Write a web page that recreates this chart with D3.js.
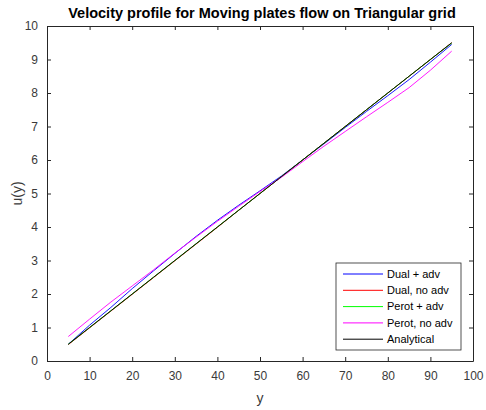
<!DOCTYPE html>
<html><head><meta charset="utf-8">
<script src="https://cdn.jsdelivr.net/npm/d3@7"></script>
<style>body{margin:0;background:#fff}svg{display:block}text{font-family:"Liberation Sans",Arial,Helvetica,sans-serif}</style>
</head><body><svg id="c" width="486" height="410"></svg>
<script>
const yPos = [5,10,15,20,25,30,35,40,45,50,55,60,65,70,75,80,85,90,95];
const dualAdv   = [0.50,1.07,1.60,2.16,2.69,3.21,3.72,4.20,4.65,5.08,5.52,6.00,6.48,6.97,7.45,7.92,8.40,8.92,9.45];
const dualNoAdv = [0.49,0.99,1.49,1.99,2.49,2.99,3.49,3.99,4.50,5.00,5.50,6.00,6.50,7.00,7.50,8.00,8.50,9.00,9.50];
const perotAdv  = [0.50,1.00,1.50,2.00,2.50,3.00,3.50,4.00,4.50,5.00,5.50,6.00,6.50,7.00,7.50,8.00,8.50,9.00,9.49];
const perotNoAdv= [0.73,1.25,1.76,2.24,2.72,3.22,3.70,4.17,4.62,5.06,5.48,5.95,6.41,6.85,7.29,7.72,8.16,8.68,9.25];
const analytical= [0.50,1.00,1.50,2.00,2.50,3.00,3.50,4.00,4.50,5.00,5.50,6.00,6.50,7.00,7.50,8.00,8.50,9.00,9.50];
const xTicks = [0,10,20,30,40,50,60,70,80,90,100];
const yTicks = [0,1,2,3,4,5,6,7,8,9,10];
const seriesNames = ["Dual + adv","Dual, no adv","Perot + adv","Perot, no adv","Analytical"];
const seriesColors = ["#0000ff","#ff0000","#00ff00","#ff00ff","#000000"];
const seriesData = [dualAdv,dualNoAdv,perotAdv,perotNoAdv,analytical];

const L=47,R=473,T=26,B=361;
const svg=d3.select("#c");
const x=d3.scaleLinear().domain([0,100]).range([L,R]);
const y=d3.scaleLinear().domain([0,10]).range([B,T]);
const axCol="#262626";

const g=svg.append("g");
const line=d3.line().x((d,i)=>x(yPos[i])).y(d=>y(d));
seriesData.forEach((s,k)=>{
  g.append("path").attr("d",line(s)).attr("fill","none")
   .attr("stroke",seriesColors[k]).attr("stroke-width",0.9);
});

function styleAxis(sel){
  sel.selectAll("path").attr("stroke",axCol);
  sel.selectAll("line").attr("stroke",axCol);
  sel.selectAll("text").attr("fill","#3a3a3a").style("font-size","12px");
}
const ax=svg.append("g").attr("transform",`translate(0,${B})`)
  .call(d3.axisBottom(x).tickValues(xTicks).tickSize(-4).tickSizeOuter(0).tickPadding(10));
styleAxis(ax);
const axT=svg.append("g").attr("transform",`translate(0,${T})`)
  .call(d3.axisTop(x).tickValues(xTicks).tickSize(-4).tickSizeOuter(0).tickFormat(""));
styleAxis(axT);
const ay=svg.append("g").attr("transform",`translate(${L},0)`)
  .call(d3.axisLeft(y).tickValues(yTicks).tickSize(-4).tickSizeOuter(0).tickPadding(9));
styleAxis(ay);
const ayR=svg.append("g").attr("transform",`translate(${R},0)`)
  .call(d3.axisRight(y).tickValues(yTicks).tickSize(-4).tickSizeOuter(0).tickFormat(""));
styleAxis(ayR);
svg.selectAll(".domain").attr("stroke-width",1);

svg.append("text").attr("x",(L+R)/2+2).attr("y",18).attr("text-anchor","middle")
  .style("font-size","14.5px").style("font-weight","bold").attr("fill","#000")
  .text("Velocity profile for Moving plates flow on Triangular grid");
svg.append("text").attr("x",(L+R)/2).attr("y",403).attr("text-anchor","middle")
  .style("font-size","14px").attr("fill","#3a3a3a").text("y");
svg.append("text").attr("transform",`translate(22,${(T+B)/2}) rotate(-90)`).attr("text-anchor","middle")
  .style("font-size","14px").attr("fill","#3a3a3a").text("u(y)");

const lg=svg.append("g");
lg.append("rect").attr("x",336).attr("y",263).attr("width",125).attr("height",87)
  .attr("fill","#fff").attr("stroke",axCol).attr("stroke-width",0.8);
seriesNames.forEach((n,k)=>{
  const yy=274+k*16.3;
  lg.append("line").attr("x1",343).attr("x2",383).attr("y1",yy).attr("y2",yy)
    .attr("stroke",seriesColors[k]).attr("stroke-width",1);
  lg.append("text").attr("x",387).attr("y",yy).attr("dy","0.35em")
    .style("font-size","11px").attr("fill","#000").text(n);
});
</script></body></html>
